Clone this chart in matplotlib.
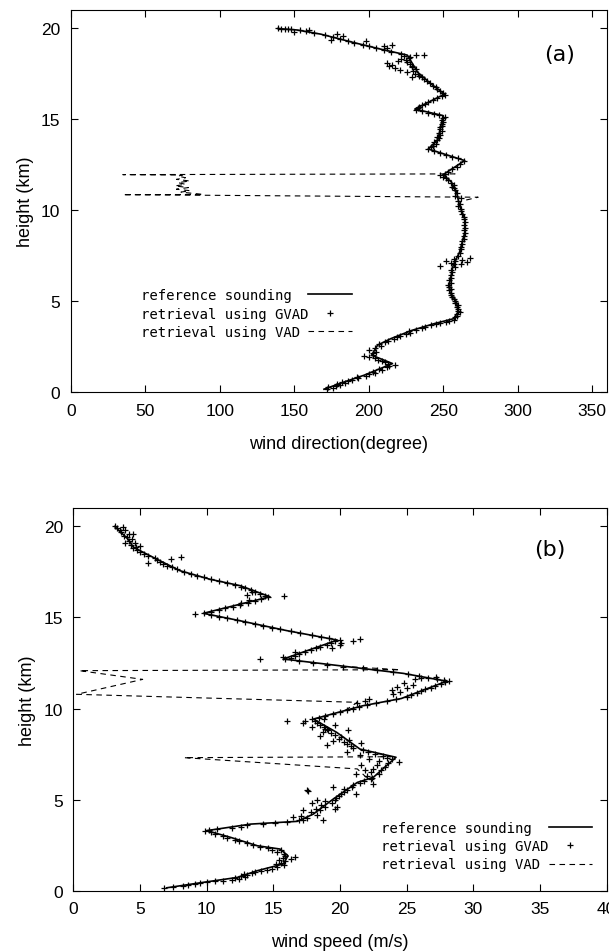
"""Wind profile comparison: reference sounding vs GVAD and VAD retrievals."""
import numpy as np
import matplotlib
matplotlib.use("Agg")
import matplotlib.pyplot as plt

# ---- (a) wind direction -------------------------------------------------
dir_ref_height = [0.18, 0.59, 0.95, 1.32, 1.59, 2.05, 2.6, 2.96, 3.41, 3.78, 4.05, 4.42, 4.97,
                  5.5, 6.06, 6.97, 7.7, 8.8, 9.53, 10.26, 11.0, 11.55, 11.96, 12.73, 13.37,
                  13.9, 14.47, 15.2, 15.56, 16.38, 16.93, 17.57, 18.52, 18.85, 19.21, 19.67,
                  19.9, 19.98]
dir_ref_deg = [170, 184, 197, 208, 216, 202, 206, 215, 229, 244, 257, 260, 259,
               254.5, 254.5, 256.7, 261, 264.6, 264.6, 261, 259, 255.6, 250, 264.5, 240,
               246.6, 248, 250, 231, 251, 242, 233, 226, 208, 190, 168,
               152, 139]

dir_gvad_height = [
    0.20, 0.25, 0.30, 0.35, 0.40, 0.45, 0.50, 0.55, 0.62, 0.70, 0.78, 0.85, 0.92,
    1.00, 1.08, 1.15, 1.22, 1.30, 1.38, 1.45, 1.52, 1.58, 1.65, 1.72, 1.80, 1.88,
    1.95, 2.02, 2.08, 2.15, 2.25, 2.35, 2.45, 2.55, 2.65, 2.75, 2.85, 2.92, 3.05,
    3.12, 3.20, 3.28, 3.36, 3.45, 3.52, 3.60, 3.68, 3.74, 3.82, 3.88, 3.95, 4.00,
    4.12, 4.20, 4.30, 4.40, 4.50, 4.60, 4.70, 4.80, 4.90, 5.05, 5.15, 5.25, 5.35,
    5.45, 5.60, 5.70, 5.80, 5.90, 6.00, 6.15, 6.30, 6.45, 6.60, 6.75, 6.90, 6.95,
    7.05, 7.10, 7.15, 7.20, 7.30, 7.35, 7.40, 7.05, 7.20, 7.50, 7.65, 7.85, 8.00,
    8.15, 8.30, 8.45, 8.60, 8.75, 8.90, 9.05, 9.20, 9.35, 9.50, 9.65, 9.80, 9.95,
    10.10, 10.25, 10.35, 10.50, 10.65, 10.80, 10.95, 11.10, 11.20, 11.30, 11.40,
    11.50, 11.65, 11.75, 11.85, 11.95, 12.00, 12.10, 12.25, 12.40, 12.55, 12.70,
    12.85, 12.95, 13.05, 13.15, 13.25, 13.35, 13.45, 13.55, 13.65, 13.75, 13.85,
    13.95, 14.05, 14.15, 14.25, 14.35, 14.45, 14.55, 14.65, 14.75, 14.85, 14.95,
    15.05, 15.15, 15.25, 15.30, 15.35, 15.45, 15.52, 15.62, 15.70, 15.78, 15.85,
    15.95, 16.05, 16.15, 16.25, 16.35, 16.45, 16.55, 16.65, 16.75, 16.85, 17.00,
    17.10, 17.20, 17.30, 17.40, 17.50, 17.30, 17.50, 17.65, 17.75, 17.85, 17.95,
    18.05, 18.15, 18.25, 18.35, 18.45, 17.80, 17.90, 18.00, 18.20, 18.30, 18.40,
    18.50, 18.52, 17.70, 18.10, 17.60, 18.60, 18.70, 18.80, 18.90, 19.00, 19.10,
    19.20, 18.92, 19.00, 19.05, 19.30, 19.30, 19.40, 19.50, 19.60, 19.35, 19.55,
    19.70, 19.75, 19.82, 19.88, 19.93, 19.98, 20.00, 19.80, 19.90, 19.97, 19.95]
dir_gvad_deg = [
    172, 176, 173, 178, 181, 179, 184, 182, 186, 189, 193, 192, 198,
    200, 204, 203, 209, 207, 212, 214, 218, 213, 211, 209, 206, 204,
    200, 197, 203, 203, 205, 200, 204, 208, 207, 211, 213, 217, 219,
    221, 225, 228, 227, 232, 236, 238, 242, 245, 248, 252, 254, 257,
    258, 259, 259, 261, 260, 260, 259, 260, 258, 258, 257, 256, 255,
    255, 254, 255, 254, 253, 255, 254, 255, 255, 256, 255, 258, 248,
    262, 255, 266, 252, 263, 257, 268, 257, 258, 260, 261, 262, 262,
    263, 263, 264, 264, 265, 264, 265, 264, 265, 264, 264, 263, 262,
    262, 260, 261, 260, 262, 258, 259, 258, 257, 256, 257,
    255, 253, 252, 250, 248, 251, 253, 256, 259, 261, 264,
    260, 256, 252, 248, 244, 240, 242, 243, 245, 244, 246,
    247, 246, 248, 247, 249, 248, 248, 249, 249, 250, 249,
    250, 251, 247, 244, 240, 236, 232, 233, 234, 236, 238,
    240, 243, 246, 249, 251, 250, 248, 246, 245, 243, 241,
    239, 237, 236, 234, 233, 229, 231, 230, 232, 229, 229,
    228, 226, 225, 227, 224, 218, 214, 216, 220, 222, 228,
    232, 237, 221, 212, 226, 222, 215, 210, 205, 200, 196,
    190, 212, 210, 216, 186, 198, 181, 176, 171, 175, 183,
    179, 163, 158, 154, 146, 141, 139, 150, 160, 144, 148]

dir_vad_height = [10.26, 10.50, 10.72, 10.86, 10.87, 11.00, 11.08, 11.16, 11.25, 11.34,
                  11.43, 11.52, 11.61, 11.70, 11.79, 11.88, 11.94, 11.96, 12.00, 12.10]
dir_vad_deg = [261, 262, 273.5, 35, 89, 74, 80, 71, 79, 70,
               77, 72, 80, 71, 77, 72, 75, 35, 258, 253]

# ---- (b) wind speed -----------------------------------------------------
spd_ref_height = [0.15, 0.45, 0.72, 1.09, 1.46, 1.91, 2.28, 2.46, 2.92, 3.29, 3.65, 3.80,
                  4.20, 5.03, 5.94, 6.22, 7.32, 7.77, 8.69, 9.42, 10.15, 10.55, 11.50,
                  11.93, 12.26, 12.72, 13.76, 14.28, 14.86, 15.23, 16.14, 16.75, 17.10,
                  17.57, 18.30, 18.86, 19.31, 20.00]
spd_ref_ms = [7.0, 9.75, 12.3, 13.8, 15.75, 16.1, 15.5, 13.8, 11.8, 10.0, 13.3, 16.8,
              18.0, 19.5, 21.3, 22.5, 24.2, 21.5, 19.75, 18.0, 21.7, 24.6, 28.0,
              24.75, 21.0, 15.75, 19.8, 16.0, 12.25, 9.75, 14.75, 12.5, 10.25,
              8.0, 6.0, 4.5, 4.1, 3.1]

spd_gvad_height = [
    0.15, 0.20, 0.25, 0.30, 0.35, 0.40, 0.45, 0.50, 0.55, 0.60, 0.65, 0.70, 0.75,
    0.80, 0.85, 0.90, 0.95, 1.00, 1.05, 1.15, 1.20, 1.30, 1.40, 1.45, 1.50, 1.60,
    1.70, 1.75, 1.80, 1.85, 1.90, 2.00, 2.10, 2.20, 2.25, 2.35, 2.40, 2.50, 2.60,
    2.70, 2.80, 2.90, 3.00, 3.10, 3.20, 3.25, 3.30, 3.40, 3.45, 3.50, 3.60, 3.68,
    3.72, 3.76, 3.85, 3.90, 4.00, 4.10, 4.15, 3.90, 4.05, 4.30, 4.40, 4.50, 4.60,
    4.70, 4.80, 4.90, 5.00, 4.40, 4.60, 4.80, 5.00, 4.50, 5.10, 5.20, 5.30, 5.40,
    5.50, 5.60, 5.70, 5.80, 5.90, 5.45, 5.55, 5.30, 5.70, 5.85, 6.00, 6.10, 6.20,
    6.30, 6.40, 6.50, 6.60, 6.70, 6.80, 6.90, 7.00, 7.10, 7.20, 7.30, 6.40, 6.60,
    6.90, 7.20, 7.05, 7.40, 7.50, 7.60, 7.70, 7.45, 7.60, 7.85, 7.95, 8.05, 8.15,
    8.25, 8.35, 8.45, 8.55, 8.65, 8.00, 8.20, 8.50, 8.70, 8.80, 8.10, 8.90, 8.80,
    8.90, 9.00, 9.10, 9.20, 9.30, 9.40, 9.00, 9.20, 9.33, 9.30, 9.10, 9.45, 9.50,
    9.60, 9.70, 9.80, 9.90, 10.00, 10.10, 10.20, 10.30, 10.40, 10.50, 10.30, 10.40,
    10.50, 10.65, 10.75, 10.85, 10.95, 11.05, 11.15, 11.25, 11.35, 11.45, 10.80,
    10.90, 11.00, 11.20, 11.40, 11.60, 11.70, 11.30, 11.10, 11.55, 11.60, 11.70,
    11.80, 11.90, 11.52, 11.75, 12.00, 12.10, 12.20, 12.30, 12.40, 12.50, 12.60,
    12.70, 12.72, 12.80, 12.90, 13.00, 13.10, 13.20, 13.30, 13.40, 13.50, 13.60,
    13.70, 12.85, 13.10, 13.35, 13.50, 13.62, 13.75, 13.80, 13.72, 13.85, 13.95,
    14.05, 14.15, 14.25, 14.35, 14.45, 14.55, 14.65, 14.75, 14.85, 14.95, 15.05,
    15.15, 15.25, 15.17, 15.30, 15.40, 15.50, 15.60, 15.70, 15.80, 15.90, 16.00,
    16.10, 16.18, 15.95, 15.80, 16.20, 16.30, 16.40, 16.50, 16.60, 16.70, 16.25,
    16.40, 16.80, 16.90, 17.00, 17.10, 17.20, 17.30, 17.40, 17.50, 17.65, 17.75,
    17.85, 17.95, 18.05, 18.15, 18.25, 18.00, 18.20, 18.30, 18.40, 18.50, 18.60,
    18.70, 18.80, 18.90, 19.00, 19.10, 19.20, 19.30, 18.95, 19.10, 19.40, 19.50,
    19.60, 19.70, 19.80, 19.90, 20.00, 19.60, 19.80, 19.95]
spd_gvad_ms = [
    6.8, 7.5, 8.2, 8.6, 9.1, 9.5, 10.0, 10.6, 11.2, 11.9, 12.4, 12.1, 12.9,
    12.6, 13.0, 12.8, 13.4, 13.6, 14.1, 14.5, 14.9, 15.3, 15.8, 15.2, 15.6, 15.9,
    15.4, 16.3, 15.7, 16.6, 15.9, 15.8, 15.3, 15.6, 14.9, 14.6, 14.0, 13.5, 13.0,
    12.4, 12.1, 11.5, 11.2, 10.6, 10.3, 9.9, 10.2, 10.8, 11.9, 12.6, 13.0, 14.2,
    15.1, 16.0, 16.9, 17.2, 17.5, 17.1, 18.3, 18.7, 16.5, 17.8, 18.5, 18.2, 18.9,
    18.6, 19.4, 18.9, 19.6, 17.2, 19.8, 17.9, 18.3, 19.6, 19.7, 19.9, 20.1, 20.3,
    20.5, 20.3, 20.9, 21.0, 21.5, 17.6, 17.5, 21.2, 19.5, 22.5, 21.8, 22.3, 22.4,
    22.0, 22.9, 22.3, 23.1, 22.5, 23.4, 22.8, 23.6, 22.9, 23.9, 23.5, 21.2, 21.9,
    21.6, 22.2, 24.4, 23.2, 22.6, 22.1, 21.7, 21.5, 20.5, 21.0, 20.8, 20.5, 20.3,
    20.7, 19.9, 20.1, 19.6, 19.3, 19.0, 19.5, 18.5, 18.7, 20.6, 21.6, 19.0, 19.1,
    18.9, 18.8, 18.5, 18.3, 18.1, 17.9, 17.9, 17.2, 16.0, 17.4, 19.6, 18.8, 18.4,
    18.9, 19.5, 20.0, 20.5, 21.0, 21.4, 22.0, 22.7, 23.5, 24.2, 21.3, 21.9,
    22.2, 25.0, 25.3, 25.8, 26.1, 26.4, 26.8, 27.1, 27.6, 27.9, 24.0,
    24.5, 23.9, 24.3, 24.8, 25.6, 26.1, 25.5, 25.0, 27.8, 27.3, 26.6,
    25.9, 25.1, 28.2, 27.2, 24.0, 22.8, 21.7, 20.2, 19.0, 18.0, 16.9,
    15.9, 14.0, 16.3, 16.6, 16.9, 17.4, 17.8, 18.2, 18.5, 19.0, 19.3,
    19.6, 15.7, 16.6, 19.4, 20.0, 20.1, 20.0, 21.5, 21.0, 19.2, 18.6,
    17.9, 17.0, 16.3, 15.5, 14.9, 14.2, 13.6, 12.9, 12.3, 11.5, 10.9,
    10.3, 9.8, 9.1, 10.3, 10.9, 11.4, 12.0, 12.5, 13.1, 13.6, 14.1,
    14.6, 15.8, 13.2, 12.6, 14.4, 14.0, 13.6, 13.3, 12.9, 12.6, 13.0,
    13.4, 12.1, 11.5, 10.9, 10.3, 9.8, 9.3, 8.8, 8.3, 7.8, 7.4,
    7.0, 6.7, 6.5, 6.3, 6.1, 5.6, 7.3, 8.1, 5.6, 5.3, 5.0,
    4.8, 4.5, 4.7, 4.3, 4.6, 4.2, 4.4, 5.0, 3.9, 4.0, 3.8,
    4.2, 3.6, 3.5, 3.3, 3.1, 4.5, 3.9, 3.7]

spd_vad_height = [6.20, 6.68, 7.30, 7.35, 7.60, np.nan,
                  9.90, 10.34, 10.78, 11.60, 12.08, 12.13, 12.30]
spd_vad_ms = [22.0, 21.3, 8.3, 23.8, 22.5, np.nan,
              20.4, 21.3, 0.25, 5.2, 0.45, 24.5, 20.6]

labels = ["reference sounding", "retrieval using GVAD", "retrieval using VAD"]
width = max(len(s) for s in labels)
labels = [s.ljust(width) for s in labels]

plt.rcParams["font.family"] = ["Liberation Sans", "DejaVu Sans"]
plt.rcParams["axes.linewidth"] = 0.8

fig = plt.figure(figsize=(6.09, 9.53), dpi=100)
ax1 = fig.add_axes([0.1161, 0.5871, 0.8806, 0.4014])
ax2 = fig.add_axes([0.1204, 0.0645, 0.8758, 0.4011])


def draw(ax, ref_x, ref_y, gvad_x, gvad_y, vad_x, vad_y):
    ax.plot(ref_x, ref_y, color="black", lw=1.2, label=labels[0])
    ax.plot(gvad_x, gvad_y, ls="none", marker="+", ms=4, mew=0.9, color="black", label=labels[1])
    ax.plot(vad_x, vad_y, color="black", lw=0.8, ls=(0, (5, 4)), label=labels[2])
    ax.set_ylim(0, 21)
    ax.set_yticks([0, 5, 10, 15, 20])
    ax.tick_params(direction="in", length=5, width=0.8, top=True, right=True,
                   labelsize=12.5, pad=7.5)
    ax.set_ylabel("height (km)", fontsize=13, labelpad=5)


legend_style = dict(loc="upper left", frameon=False, markerfirst=False,
                    prop={"family": "DejaVu Sans Mono", "size": 10}, borderpad=0,
                    borderaxespad=0, handlelength=3.15, handletextpad=0.0, labelspacing=0.32)

draw(ax1, dir_ref_deg, dir_ref_height, dir_gvad_deg, dir_gvad_height, dir_vad_deg, dir_vad_height)
ax1.set_xlim(0, 360)
ax1.set_xticks(np.arange(0, 351, 50))
ax1.set_xlabel("wind direction(degree)", fontsize=13, labelpad=12)
ax1.text(0.912, 0.885, "(a)", transform=ax1.transAxes, ha="center", va="center",
         fontsize=16, family="DejaVu Sans")
ax1.legend(bbox_to_anchor=(0.131, 0.273), **legend_style)

draw(ax2, spd_ref_ms, spd_ref_height, spd_gvad_ms, spd_gvad_height, spd_vad_ms, spd_vad_height)
ax2.set_xlim(0, 40)
ax2.set_xticks(np.arange(0, 41, 5))
ax2.set_xlabel("wind speed (m/s)", fontsize=13, labelpad=12)
ax2.text(0.893, 0.893, "(b)", transform=ax2.transAxes, ha="center", va="center",
         fontsize=16, family="DejaVu Sans")
ax2.legend(bbox_to_anchor=(0.577, 0.183), **legend_style)

fig.savefig("out.png", dpi=100)
